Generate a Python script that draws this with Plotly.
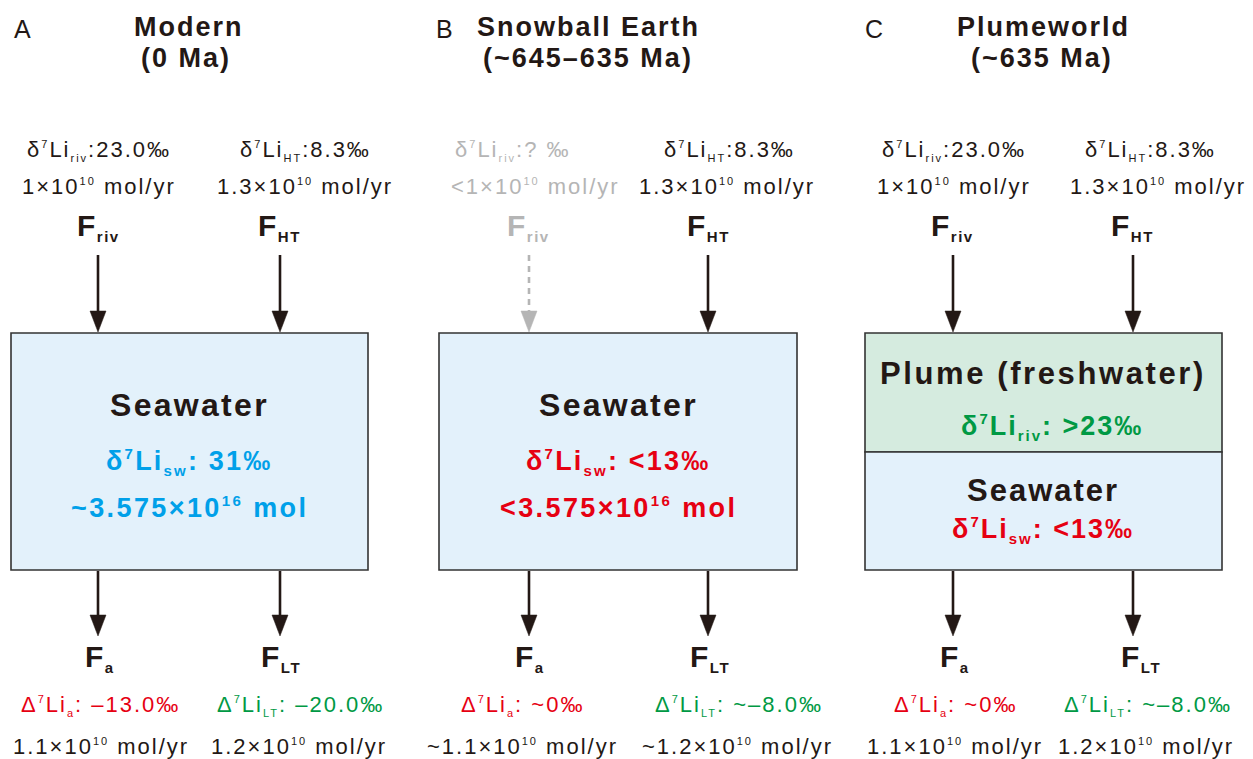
import plotly.graph_objects as go

# ---- content of the three Li-cycle box models ----
panel_letters = ["A", "B", "C"]
panel_titles = ["Modern", "Snowball Earth", "Plumeworld"]
panel_ages = ["(0 Ma)", "(~645–635 Ma)", "(~635 Ma)"]

riv_d7li = ["23.0", "? ", "23.0"]              # δ7Li of river input (‰)
riv_flux = ["1", "<1", "1"]                     # ×10^10 mol/yr
ht_d7li = ["8.3", "8.3", "8.3"]                 # δ7Li of hydrothermal input (‰)
ht_flux = ["1.3", "1.3", "1.3"]                 # ×10^10 mol/yr

sw_d7li = ["31", "<13", "<13"]                  # δ7Li of seawater (‰)
sw_mass = ["~3.575", "<3.575", None]            # ×10^16 mol
plume_d7li = [None, None, ">23"]                # δ7Li of freshwater plume (‰)

a_D7li = ["–13.0", "~0", "~0"]                  # Δ7Li of authigenic clay sink (‰)
a_flux = ["1.1", "~1.1", "1.1"]                 # ×10^10 mol/yr
lt_D7li = ["–20.0", "~–8.0", "~–8.0"]           # Δ7Li of low-T alteration sink (‰)
lt_flux = ["1.2", "~1.2", "1.2"]                # ×10^10 mol/yr
riv_active = [True, False, True]

# ---- styling ----
FONT = "Liberation Sans, Arial, Helvetica, sans-serif"
INK = "#231815"
GREY = "#b5b5b5"
BLUE = "#00a0e9"
RED = "#e60012"
GREEN = "#009944"
SEA_FILL = "#e3f1fb"
PLUME_FILL = "#d5ebdf"
EDGE = "#333333"

# geometry of each panel (pixel coordinates, y downward)
geo = [
    dict(letter=22, title=189, age=186, box=(11, 368),
         arr=(98, 280),
         top_l=(99, 99, 98), top_r=(305, 305, 279),
         bot_l=(100, 100.5, 100.5), bot_r=(281, 300, 298.5),
         box_c=189),
    dict(letter=444, title=588, age=588, box=(439, 797),
         arr=(529, 708),
         top_l=(513, 535.5, 528), top_r=(729, 726.5, 708.5),
         bot_l=(529.5, 522, 522), bot_r=(710, 739, 737.5),
         box_c=618),
    dict(letter=874, title=1043, age=1042, box=(865, 1222),
         arr=(953, 1133),
         top_l=(954, 954, 952), top_r=(1150, 1157.5, 1132),
         bot_l=(955, 955, 954.5), bot_r=(1141, 1147.5, 1145.5),
         box_c=1043),
]

BOX_TOP, BOX_BOT, DIVIDER = 333, 570, 452


def sup(t, px):
    return f'<sup><span style="font-size:{px}px">{t}</span></sup>'


def sub(t, px):
    return f'<sub><span style="font-size:{px}px">{t}</span></sub>'


annotations = []
shapes = []


def text(x, y, s, size, color=INK, bold=False, spacing=0.0):
    if spacing:
        s = f'<span style="letter-spacing:{spacing}px">{s}</span>'
    annotations.append(dict(
        x=x, y=y, xref="x", yref="y", text=s, showarrow=False,
        xanchor="center", yanchor="middle",
        font=dict(family=FONT, size=size, color=color,
                  weight="bold" if bold else "normal"),
    ))


def arrow(x, y0, y1, color=INK, dash="solid"):
    head = 21
    half = 8
    shapes.append(dict(type="line", xref="x", yref="y", x0=x, x1=x,
                       y0=y0, y1=y1 - head + 2,
                       line=dict(color=color, width=2.6, dash=dash)))
    shapes.append(dict(type="path", xref="x", yref="y",
                       path=f"M {x - half},{y1 - head} L {x + half},{y1 - head} L {x},{y1} Z",
                       fillcolor=color, line=dict(color=color, width=0.5)))


REG = 22      # regular label size
SP = 2.0      # tracking of regular labels
SUPPX = 11    # size of small raised / lowered parts of regular labels

for i, g in enumerate(geo):
    # headings
    text(g["letter"], 29, panel_letters[i], 25, INK)
    text(g["title"], 26.5, panel_titles[i], 27, INK, bold=True, spacing=2)
    text(g["age"], 58, panel_ages[i], 27, INK, bold=True, spacing=2)

    # inputs
    c_riv = INK if riv_active[i] else GREY
    xl = g["top_l"]
    xr = g["top_r"]
    text(xl[0], 150.5, f"δ{sup('7', SUPPX)}Li{sub('riv', SUPPX)}:{riv_d7li[i]}‰", REG, c_riv, spacing=SP)
    text(xl[1], 186, f"{riv_flux[i]}×10{sup('10', SUPPX)} mol/yr", REG, c_riv, spacing=SP)
    text(xl[2], 227, f"F{sub('riv', 15)}", 30, c_riv, bold=True, spacing=1.5)
    text(xr[0], 150.5, f"δ{sup('7', SUPPX)}Li{sub('HT', SUPPX)}:{ht_d7li[i]}‰", REG, INK, spacing=SP)
    text(xr[1], 186, f"{ht_flux[i]}×10{sup('10', SUPPX)} mol/yr", REG, INK, spacing=SP)
    text(xr[2], 227, f"F{sub('HT', 15)}", 30, INK, bold=True, spacing=1.5)

    # reservoir box(es)
    x0, x1 = g["box"]
    if plume_d7li[i] is not None:
        shapes.append(dict(type="rect", xref="x", yref="y", x0=x0, x1=x1,
                           y0=BOX_TOP, y1=DIVIDER, fillcolor=PLUME_FILL,
                           line=dict(color=EDGE, width=1.6), layer="below"))
        shapes.append(dict(type="rect", xref="x", yref="y", x0=x0, x1=x1,
                           y0=DIVIDER, y1=BOX_BOT, fillcolor=SEA_FILL,
                           line=dict(color=EDGE, width=1.6), layer="below"))
        text(g["box_c"], 373.5, "Plume (freshwater)", 31, INK, bold=True, spacing=2.6)
        text(1052, 427, f"δ{sup('7', 15)}Li{sub('riv', 15)}: {plume_d7li[i]}‰", 27, GREEN, bold=True, spacing=2)
        text(g["box_c"], 490, "Seawater", 31, INK, bold=True, spacing=2)
        text(g["box_c"], 530, f"δ{sup('7', 15)}Li{sub('sw', 15)}: {sw_d7li[i]}‰", 27, RED, bold=True, spacing=2)
    else:
        shapes.append(dict(type="rect", xref="x", yref="y", x0=x0, x1=x1,
                           y0=BOX_TOP, y1=BOX_BOT, fillcolor=SEA_FILL,
                           line=dict(color=EDGE, width=1.6), layer="below"))
        col = BLUE if i == 0 else RED
        text(g["box_c"], 404.5, "Seawater", 32, INK, bold=True, spacing=2.3)
        text(g["box_c"], 462, f"δ{sup('7', 15)}Li{sub('sw', 15)}: {sw_d7li[i]}‰", 27, col, bold=True, spacing=2.2)
        text(g["box_c"], 507.5, f"{sw_mass[i]}×10{sup('16', 15)} mol", 27, col, bold=True, spacing=2.4)

    # arrows in and out
    xa, xb = g["arr"]
    arrow(xa, 255, BOX_TOP - 1, INK if riv_active[i] else GREY,
          "solid" if riv_active[i] else "6px,5px")
    arrow(xb, 255, BOX_TOP - 1)
    arrow(xa, BOX_BOT + 1, 636)
    arrow(xb, BOX_BOT + 1, 636)

    # sinks
    bl = g["bot_l"]
    br = g["bot_r"]
    text(bl[0], 657.5, f"F{sub('a', 15)}", 30, INK, bold=True, spacing=1.5)
    text(br[0], 657.5, f"F{sub('LT', 15)}", 30, INK, bold=True, spacing=1.5)
    text(bl[1], 705.5, f"Δ{sup('7', SUPPX)}Li{sub('a', SUPPX)}: {a_D7li[i]}‰", REG, RED, spacing=SP)
    text(br[1], 705.5, f"Δ{sup('7', SUPPX)}Li{sub('LT', SUPPX)}: {lt_D7li[i]}‰", REG, GREEN, spacing=SP)
    text(bl[2], 746.5, f"{a_flux[i]}×10{sup('10', SUPPX)} mol/yr", REG, INK, spacing=SP)
    text(br[2], 746.5, f"{lt_flux[i]}×10{sup('10', SUPPX)} mol/yr", REG, INK, spacing=SP)

fig = go.Figure()
fig.update_layout(
    width=1253, height=759,
    margin=dict(l=0, r=0, t=0, b=0),
    paper_bgcolor="white", plot_bgcolor="white",
    xaxis=dict(range=[0, 1253], visible=False, fixedrange=True),
    yaxis=dict(range=[759, 0], visible=False, fixedrange=True),
    shapes=shapes, annotations=annotations, showlegend=False,
)
fig.write_html("out.html")
